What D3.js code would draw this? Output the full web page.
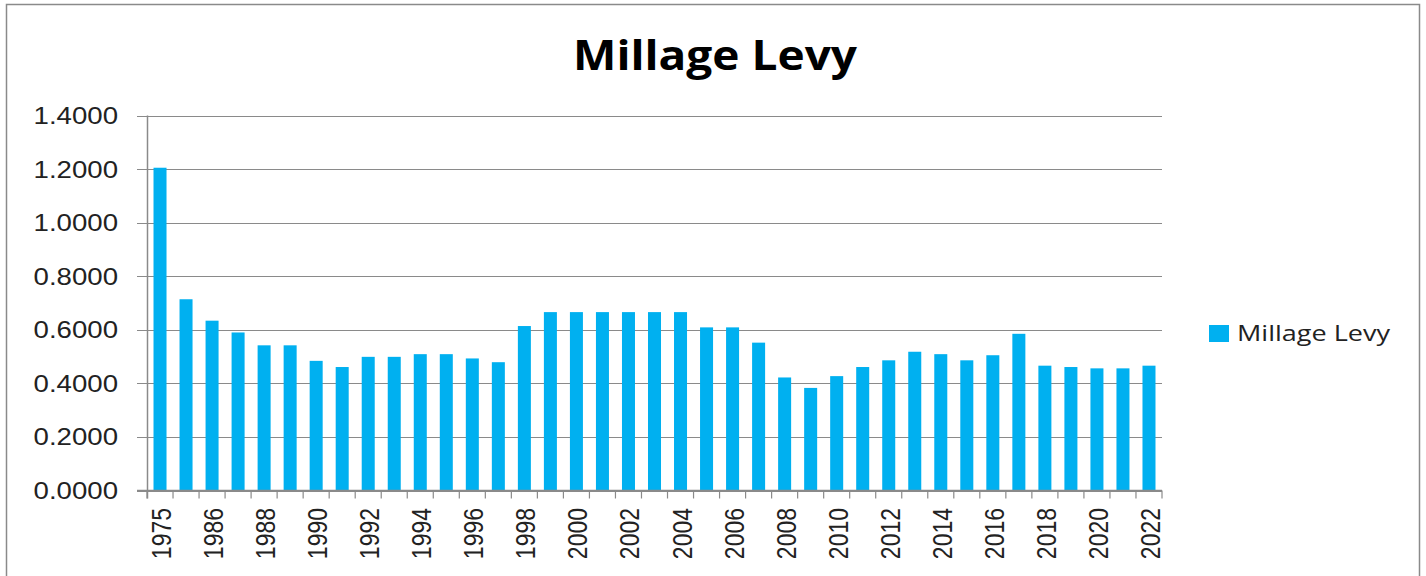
<html>
  <head>
    <script src="https://d3js.org/d3.v7.min.js"></script>
    <style>
      body { margin: 0; background: #fff; }
    </style>
  </head>
  <body>
    <svg id="graph" width="1426" height="576"></svg>
    <script>
      const years = ["1975", "1985", "1986", "1987", "1988", "1989", "1990", "1991",
        "1992", "1993", "1994", "1995", "1996", "1997", "1998", "1999", "2000",
        "2001", "2002", "2003", "2004", "2005", "2006", "2007", "2008", "2009",
        "2010", "2011", "2012", "2013", "2014", "2015", "2016", "2017", "2018",
        "2019", "2020", "2021", "2022"];
      const levy = [1.205, 0.714, 0.634, 0.590, 0.542, 0.542, 0.484, 0.461,
        0.499, 0.499, 0.509, 0.509, 0.493, 0.479, 0.614, 0.666, 0.666,
        0.666, 0.666, 0.666, 0.666, 0.609, 0.609, 0.552, 0.422, 0.383,
        0.427, 0.461, 0.486, 0.518, 0.509, 0.486, 0.505, 0.585, 0.466,
        0.461, 0.456, 0.456, 0.466];
      const yTicks = [0, 0.2, 0.4, 0.6, 0.8, 1.0, 1.2, 1.4];
      const seriesName = "Millage Levy";

      const svg = d3.select("#graph");
      const plotLeft = 147, plotRight = 1162, plotTop = 115.5, plotBottom = 490.5;
      const grey = "#8a8a8a";
      const blue = "#00b0f0";

      // chart frame
      svg.append("rect")
        .attr("x", 6.5).attr("y", 4.5)
        .attr("width", 1413).attr("height", 620)
        .attr("fill", "none").attr("stroke", grey).attr("stroke-width", 1.5);

      const x = d3.scaleBand()
        .domain(years)
        .range([plotLeft, plotRight])
        .paddingInner(0.5)
        .paddingOuter(0.25);
      const y = d3.scaleLinear().domain([0, 1.4]).range([plotBottom, plotTop]);

      // gridlines + y ticks
      svg.append("g")
        .selectAll("line")
        .data(yTicks)
        .enter()
        .append("line")
        .attr("x1", plotLeft - 10).attr("x2", plotRight)
        .attr("y1", d => Math.round(y(d)) + 0.5).attr("y2", d => Math.round(y(d)) + 0.5)
        .attr("stroke", grey).attr("stroke-width", 1.2);

      svg.append("g")
        .selectAll("text")
        .data(yTicks)
        .enter()
        .append("text")
        .attr("transform", d => `translate(118, ${y(d) + 8.5}) scale(1.2, 1)`)
        .attr("text-anchor", "end")
        .attr("font-family", "Liberation Sans, Arial, sans-serif")
        .attr("font-size", 23)
        .attr("fill", "#222")
        .text(d => d.toFixed(4));

      // bars
      svg.append("g")
        .selectAll("rect")
        .data(levy)
        .enter()
        .append("rect")
        .attr("x", (d, i) => x(years[i]))
        .attr("y", d => y(d))
        .attr("width", x.bandwidth())
        .attr("height", d => plotBottom - y(d))
        .attr("fill", blue);

      // axis lines
      svg.append("line")
        .attr("x1", plotLeft + 0.5).attr("x2", plotLeft + 0.5)
        .attr("y1", plotTop).attr("y2", plotBottom + 8)
        .attr("stroke", grey).attr("stroke-width", 1.5);
      svg.append("line")
        .attr("x1", plotLeft - 10).attr("x2", plotRight)
        .attr("y1", plotBottom).attr("y2", plotBottom)
        .attr("stroke", grey).attr("stroke-width", 1.5);

      // x ticks between categories
      const step = x.step();
      svg.append("g")
        .selectAll("line")
        .data(d3.range(years.length + 1))
        .enter()
        .append("line")
        .attr("x1", i => plotLeft + i * step).attr("x2", i => plotLeft + i * step)
        .attr("y1", plotBottom).attr("y2", plotBottom + 8)
        .attr("stroke", grey).attr("stroke-width", 1.2);

      // x labels, every other year
      svg.append("g")
        .selectAll("text")
        .data(years.filter((d, i) => i % 2 === 0))
        .enter()
        .append("text")
        .attr("transform", d => `translate(${x(d) + x.bandwidth() / 2 + 11}, 508) scale(1.2, 1) rotate(-90)`)
        .attr("text-anchor", "end")
        .attr("font-family", "Liberation Sans, Arial, sans-serif")
        .attr("font-size", 23)
        .attr("fill", "#222")
        .text(d => d);

      // title
      svg.append("text")
        .attr("x", 573).attr("y", 70)
        .attr("textLength", 284)
        .attr("lengthAdjust", "spacingAndGlyphs")
        .attr("font-family", "Open Sans, sans-serif")
        .attr("font-weight", "bold")
        .attr("font-size", 41)
        .attr("fill", "#000")
        .text(seriesName);

      // legend
      svg.append("rect")
        .attr("x", 1209).attr("y", 325)
        .attr("width", 20).attr("height", 17)
        .attr("fill", blue);
      svg.append("text")
        .attr("x", 1237).attr("y", 341)
        .attr("textLength", 153)
        .attr("lengthAdjust", "spacingAndGlyphs")
        .attr("font-family", "Open Sans, sans-serif")
        .attr("font-size", 21)
        .attr("fill", "#222")
        .text(seriesName);
    </script>
  </body>
</html>
